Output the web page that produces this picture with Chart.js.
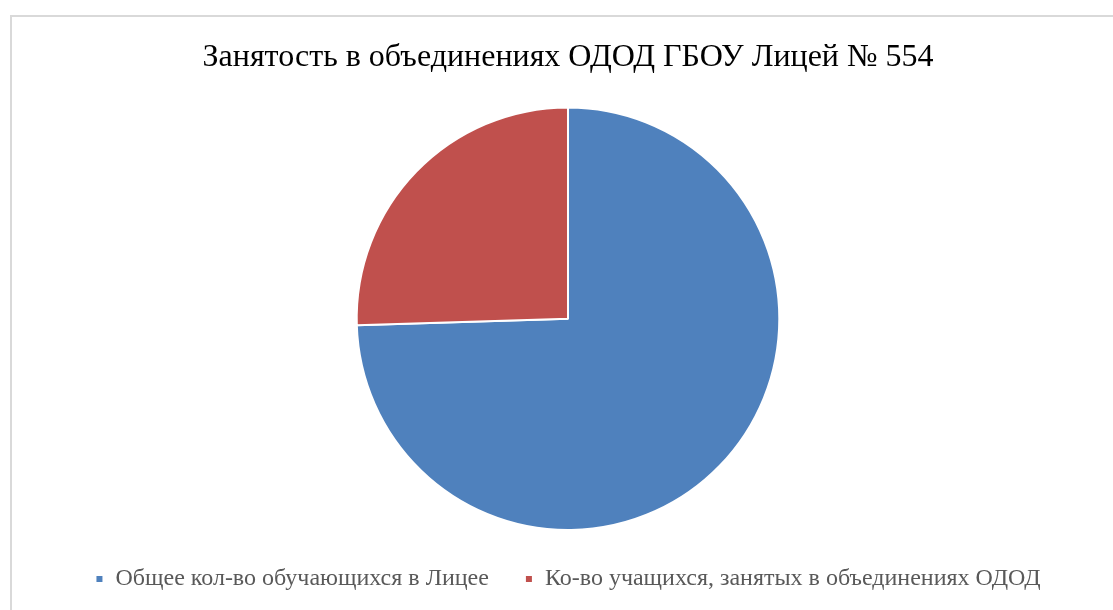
<!DOCTYPE html>
<html lang="ru">
<head>
  <meta charset="UTF-8">
  <title>Занятость в объединениях ОДОД</title>
  <script src="https://cdn.jsdelivr.net/npm/chart.js"></script>
  <style>
    html, body {
      margin: 0;
      width: 1113px;
      height: 610px;
      overflow: hidden;
      background: #fff;
    }
    .frame {
      position: absolute;
      left: 10px;
      top: 15px;
      width: 1130px;
      height: 620px;
      border-left: 2px solid #d9d9d9;
      border-top: 2px solid #d9d9d9;
      box-sizing: border-box;
    }
    canvas {
      position: absolute;
      left: 10px;
      top: 15px;
    }
  </style>
</head>
<body>
  <div class="frame"></div>
  <canvas id="pie" width="1116" height="595"></canvas>

  <script>
    // share of pupils (percent)
    const categories = ['Общее кол-во обучающихся в Лицее', 'Ко-во учащихся, занятых в объединениях ОДОД'];
    const values = [74.5, 25.5];
    const colours = ['#4f81bd', '#c0504d'];

    const serif = '"Liberation Serif", "Times New Roman", serif';

    new Chart(document.getElementById('pie'), {
      type: 'pie',
      data: {
        labels: categories,
        datasets: [{
          data: values,
          backgroundColor: colours,
          borderColor: '#fff',
          borderWidth: 2
        }]
      },
      options: {
        responsive: false,
        animation: false,
        layout: { padding: { top: 0, bottom: 9, left: 0, right: 0 } },
        plugins: {
          tooltip: { enabled: false },
          title: {
            display: true,
            text: 'Занятость в объединениях ОДОД ГБОУ Лицей № 554',
            color: '#000',
            font: { family: serif, size: 32, weight: 'normal' },
            padding: { top: 23, bottom: 30 }
          },
          legend: {
            position: 'bottom',
            labels: {
              color: '#595959',
              font: { family: serif, size: 24 },
              boxWidth: 8,
              boxHeight: 8,
              padding: 36
            }
          }
        }
      }
    });
  </script>
</body>
</html>
